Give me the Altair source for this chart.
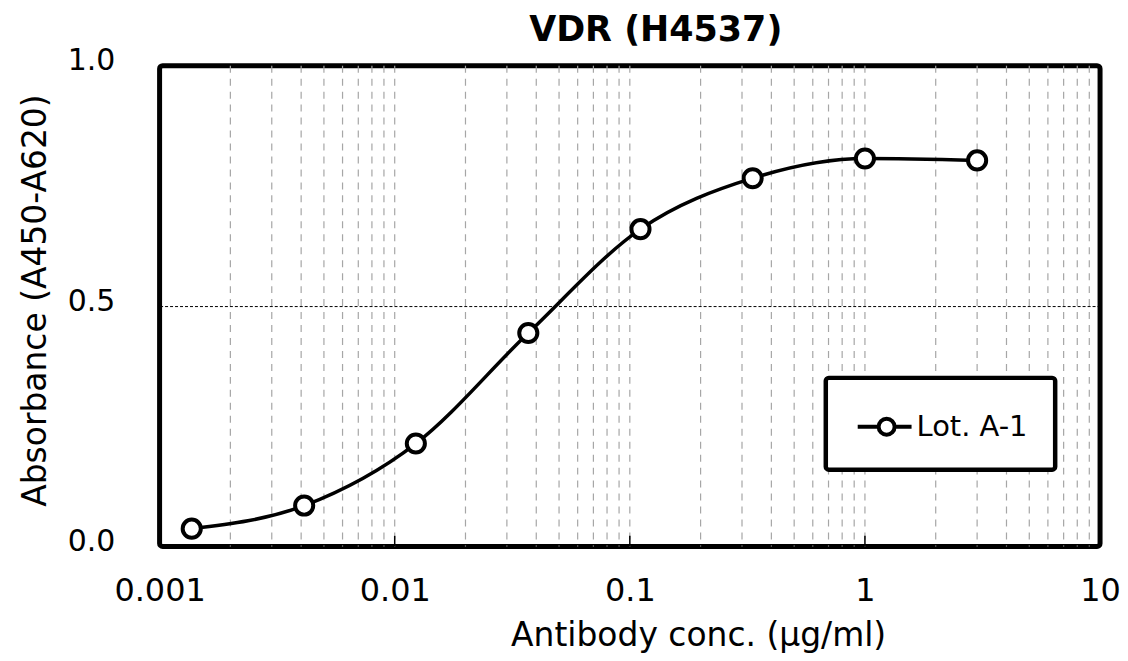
import altair as alt
import pandas as pd

# Data
conc = [0.00137, 0.00412, 0.0123, 0.037, 0.111, 0.333, 1.0, 3.0]
absorbance = [0.037, 0.085, 0.214, 0.444, 0.660, 0.766, 0.807, 0.803]
series_name = "Lot. A-1"

decades = [0.001, 0.01, 0.1, 1, 10]
grid_vals = [m * d for d in [0.001, 0.01, 0.1, 1] for m in range(1, 10)][1:]
y_ticks = [0.0, 0.5, 1.0]

FONT = "DejaVu Sans"

df = pd.DataFrame({"conc": conc, "abs": absorbance, "series": [series_name] * len(conc)})
grid_df = pd.DataFrame({"g": grid_vals})
tick_df = pd.DataFrame({"t": decades[1:-1]})

xscale = alt.Scale(type="log", domain=[0.001, 10], nice=False)
yscale = alt.Scale(domain=[0, 1], nice=False)

xaxis = alt.Axis(
    values=decades, format="~g", title="Antibody conc. (μg/ml)",
    grid=False, ticks=False, domain=False,
    labelFont=FONT, labelFontSize=32, labelColor="black", labelPadding=44,
    labelBaseline="middle", labelFlush=False,
    titleFont=FONT, titleFontSize=33, titleFontWeight="normal", titleColor="black",
    titleX=540, titleY=89, titleBaseline="middle", titleAlign="center",
)
yaxis = alt.Axis(
    values=y_ticks, format=".1f", title="Absorbance (A450-A620)",
    grid=True, gridColor="black", gridDash=[3, 2], gridWidth=1,
    ticks=False, domain=False,
    labelFont=FONT, labelFontSize=30, labelColor="black", labelPadding=45,
    labelBaseline="middle", labelOffset=-5, labelFlush=False,
    titleFont=FONT, titleFontSize=33, titleFontWeight="normal", titleColor="black",
    titleX=-124, titleY=235, titleAngle=270, titleBaseline="middle", titleAlign="center",
)

gridlines = alt.Chart(grid_df).mark_rule(
    color="#a6a6a6", strokeWidth=1.2, strokeDash=[7, 6]
).encode(x=alt.X("g:Q", scale=xscale, axis=xaxis))

ticks = alt.Chart(tick_df).mark_rule(color="black", strokeWidth=1.5).encode(
    x=alt.X("t:Q", scale=xscale),
    y=alt.datum(0, scale=yscale),
    y2=alt.datum(0.022),
)

sym = "M-0.85,0 L0.2,0 M1.0,0 L1.85,0 M0.2,0 A0.4,0.4 0 1,0 1.0,0 A0.4,0.4 0 1,0 0.2,0"

line = alt.Chart(df).mark_line(interpolate="monotone", strokeWidth=3.5).encode(
    x=alt.X("conc:Q", scale=xscale),
    y=alt.Y("abs:Q", scale=yscale, axis=yaxis),
    color=alt.Color(
        "series:N",
        scale=alt.Scale(range=["black"]),
        legend=alt.Legend(
            title=None, orient="none", legendX=668, legendY=313,
            symbolType=sym, symbolSize=1600, symbolStrokeWidth=4,
            symbolStrokeColor="black", symbolFillColor="white",
            labelFont=FONT, labelFontSize=29, labelColor="black", labelOffset=20,
            padding=27, strokeColor="black", fillColor="white",
        ),
    ),
)

points = alt.Chart(df).mark_point(
    shape="circle", size=330, filled=True, fill="white", stroke="black",
    strokeWidth=4, opacity=1,
).encode(
    x=alt.X("conc:Q", scale=xscale),
    y=alt.Y("abs:Q", scale=yscale),
)

chart = alt.layer(gridlines, ticks, line, points).properties(
    width=943, height=482,
    background="white",
    title=alt.TitleParams(
        "VDR (H4537)", font=FONT, fontSize=35, fontWeight="bold", color="black",
        anchor="middle", dx=26, offset=-2,
    ),
    autosize=alt.AutoSizeParams(type="none"),
    padding={"left": 152, "top": 57, "right": 20, "bottom": 112},
).configure_view(
    stroke="black", strokeWidth=5, cornerRadius=3
).configure_legend(
    strokeWidth=4.5, cornerRadius=3
)

chart.save("out.html", embed_options={"renderer": "svg", "actions": False})
